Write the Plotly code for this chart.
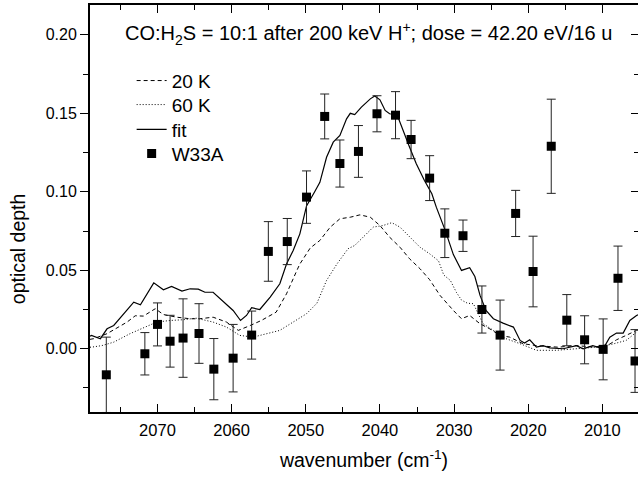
import plotly.graph_objects as go

# ---- data ----
fit_x = [2079.1, 2078.9, 2077.7, 2076.8, 2075.9, 2074.6, 2073.2, 2072.3, 2071.2, 2070.5, 2069.2, 2068.1,
         2066.7, 2065.6, 2064.5, 2063.6, 2062.5, 2061.1, 2059.8, 2058.8, 2058.0, 2057.3, 2056.2, 2054.8,
         2053.5, 2052.6, 2051.7, 2050.8, 2049.9, 2048.8, 2048.1, 2047.2, 2046.3, 2045.4, 2044.5, 2044.0,
         2043.4, 2042.5, 2041.3, 2040.7, 2040.0, 2039.3, 2038.7, 2037.7, 2036.9, 2036.0, 2035.1, 2034.0,
         2033.0, 2032.4, 2031.2, 2030.1, 2029.0, 2027.9, 2027.2, 2026.5, 2025.7, 2024.7, 2023.4, 2022.0,
         2021.1, 2020.5, 2019.8, 2018.9, 2018.0, 2017.1, 2015.3, 2013.5, 2012.6, 2011.3, 2009.9, 2009.0,
         2008.1, 2007.2, 2006.3, 2005.4, 2005.0]
fit_y = [0.008, 0.0085, 0.0064, 0.0127, 0.0148, 0.0223, 0.0297, 0.028, 0.0371, 0.042, 0.0376, 0.0397,
         0.0367, 0.0382, 0.038, 0.036, 0.036, 0.0297, 0.0244, 0.018, 0.0212, 0.0261, 0.025, 0.0329,
         0.0414, 0.054, 0.0626, 0.0732, 0.091, 0.100, 0.106, 0.122, 0.1316, 0.1359, 0.1465, 0.150,
         0.1492, 0.1539, 0.1592, 0.161, 0.1586, 0.1518, 0.1497, 0.1492, 0.139, 0.1284, 0.1178, 0.1072,
         0.0987, 0.0902, 0.0754, 0.060, 0.0499, 0.0516, 0.046, 0.034, 0.0244, 0.0191, 0.0163, 0.0138,
         0.0053, 0.0036, 0.0057, 0.001, 0.002, 0.0006, 0.0, 0.002, 0.0, 0.002, 0.0, 0.0074,
         0.010, 0.010, 0.018, 0.0212, 0.022]

k20_x = [2079.1, 2078.6, 2076.8, 2075.5, 2074.1, 2073.0, 2071.9, 2070.3, 2069.2, 2067.4, 2065.6, 2064.3,
         2062.5, 2060.7, 2059.1, 2057.5, 2056.0, 2054.0, 2052.6, 2051.2, 2050.8, 2049.4, 2048.1, 2046.7,
         2045.4, 2044.0, 2042.7, 2041.3, 2040.0, 2038.7, 2037.3, 2036.0, 2035.1, 2034.6, 2033.3, 2031.9,
         2030.1, 2029.0, 2027.9, 2026.5, 2025.2, 2023.8, 2022.5, 2020.7, 2018.9, 2016.0, 2013.5, 2011.0,
         2009.0, 2008.1, 2006.8, 2005.4, 2005.0]
k20_y = [0.006, 0.0064, 0.0096, 0.0134, 0.017, 0.021, 0.0208, 0.0255, 0.0218, 0.0201, 0.0191, 0.0191,
         0.0201, 0.017, 0.0117, 0.0148, 0.018, 0.0233, 0.035, 0.0499, 0.054, 0.0642, 0.069, 0.0775,
         0.0828, 0.0838, 0.0853, 0.0838, 0.0785, 0.0711, 0.0647, 0.0573, 0.053, 0.051, 0.044, 0.034,
         0.0244, 0.0191, 0.0212, 0.0159, 0.0127, 0.0085, 0.0074, 0.0032, 0.002, 0.001, 0.002, 0.001,
         0.003, 0.0057, 0.0085, 0.0117, 0.012]

k60_x = [2079.1, 2078.9, 2077.5, 2075.9, 2073.7, 2071.5, 2070.1, 2068.3, 2066.5, 2064.8, 2062.5, 2060.7,
         2058.9, 2057.1, 2055.3, 2053.5, 2051.7, 2049.9, 2048.5, 2047.2, 2045.8, 2044.3, 2043.4, 2042.3,
         2040.9, 2039.6, 2038.4, 2037.3, 2036.0, 2034.6, 2033.3, 2032.1, 2031.4, 2030.5, 2029.7, 2029.0,
         2028.2, 2027.4, 2026.1, 2024.7, 2023.0, 2021.1, 2018.9, 2016.2, 2013.5, 2010.8, 2008.6, 2006.8,
         2005.4, 2005.0]
k60_y = [0.001, 0.001, 0.002, 0.0042, 0.0096, 0.0142, 0.017, 0.018, 0.0185, 0.0195, 0.017, 0.0138,
         0.0085, 0.0074, 0.0096, 0.0117, 0.017, 0.0223, 0.029, 0.0435, 0.054, 0.0637, 0.0658, 0.0711,
         0.0775, 0.0785, 0.0803, 0.0775, 0.0711, 0.0647, 0.0605, 0.056, 0.047, 0.0435, 0.036, 0.031,
         0.029, 0.0287, 0.016, 0.0117, 0.0064, 0.0032, -0.001, -0.001, 0.0, 0.001, 0.003, 0.0053,
         0.0106, 0.011]

w33a_x = [2076.9, 2071.7, 2070.0, 2068.3, 2066.55, 2064.4, 2062.4, 2059.8, 2057.3, 2055.05, 2052.5,
          2049.9, 2047.45, 2045.4, 2042.9, 2040.4, 2037.9, 2035.8, 2033.3, 2031.25, 2028.8, 2026.25,
          2023.8, 2021.7, 2019.35, 2016.9, 2014.8, 2012.4, 2009.9, 2007.9, 2005.6]
w33a_y = [-0.0166, -0.0032, 0.0155, 0.0048, 0.0068, 0.0097, -0.013, -0.006, 0.0087, 0.062, 0.0683,
          0.0966, 0.148, 0.118, 0.1257, 0.1497, 0.1488, 0.1333, 0.1087, 0.0736, 0.072, 0.025,
          0.0087, 0.0862, 0.0492, 0.129, 0.0182, 0.0057, -0.0004, 0.0449, -0.0078]
w33a_err = [0.024, 0.0135, 0.0137, 0.0165, 0.025, 0.019, 0.0195, 0.0215, 0.0153, 0.019, 0.0147,
            0.0167, 0.0143, 0.015, 0.0165, 0.0115, 0.015, 0.0122, 0.0143, 0.0155, 0.010, 0.015,
            0.0223, 0.0147, 0.0225, 0.030, 0.0163, 0.0153, 0.0194, 0.0205, 0.020]

x_range = [2079.1, 2005.2]
y_range = [-0.0403, 0.2190]
y_ticks = [0.00, 0.05, 0.10, 0.15, 0.20]
y_ticklabels = ["0.00", "0.05", "0.10", "0.15", "0.20"]
x_ticks = [2070, 2060, 2050, 2040, 2030, 2020, 2010]

FONT = "Liberation Sans, Arial, sans-serif"

fig = go.Figure()
fig.add_trace(go.Scatter(x=k20_x, y=k20_y, mode="lines", name="20 K", legend="legend",
                         line=dict(color="black", width=1, dash="4px,3px")))
fig.add_trace(go.Scatter(x=k60_x, y=k60_y, mode="lines", name="60 K", legend="legend2",
                         line=dict(color="black", width=1, dash="1px,2px")))
fig.add_trace(go.Scatter(x=fit_x, y=fit_y, mode="lines", name="fit", legend="legend3",
                         line=dict(color="black", width=1.2)))
fig.add_trace(go.Scatter(x=w33a_x, y=w33a_y, mode="markers", name="W33A", legend="legend4",
                         marker=dict(symbol="square", size=9, color="black"),
                         error_y=dict(type="data", array=w33a_err, visible=True,
                                      color="#222", thickness=1, width=4.5)))
# invisible trace to anchor right mirror axis
fig.add_trace(go.Scatter(x=[x_range[0]], y=[0], yaxis="y2", mode="markers",
                         marker=dict(opacity=0), showlegend=False, hoverinfo="skip"))

def leg(yc):
    return dict(x=0.076, y=yc, xanchor="left", yanchor="middle",
                bgcolor="rgba(0,0,0,0)", font=dict(size=19, family=FONT))

fig.update_layout(
    width=638, height=477,
    margin=dict(l=90, r=0, t=5, b=65),
    paper_bgcolor="white", plot_bgcolor="white",
    font=dict(family=FONT, color="black", size=16),
    showlegend=True,
    legend=leg(0.814), legend2=leg(0.755), legend3=leg(0.694), legend4=leg(0.635),
    xaxis=dict(range=x_range, tickvals=x_ticks, ticks="inside", ticklen=8, tickwidth=1.3,
               tickcolor="black", showline=True, linecolor="black", linewidth=1.6,
               mirror="ticks", showgrid=False, zeroline=False,
               tickfont=dict(size=16.5, family=FONT), ticklabelstandoff=2,
               minor=dict(dtick=5, ticks="inside", ticklen=5, tickcolor="black", tickwidth=1.3,
                          tick0=2005),
               title=dict(text="wavenumber (cm<sup>-1</sup>)", font=dict(size=19.5, family=FONT),
                          standoff=16)),
    yaxis=dict(range=y_range, tickvals=y_ticks, ticktext=y_ticklabels, ticks="outside",
               ticklen=8, tickwidth=1.3, tickcolor="black", showline=True, linecolor="black",
               linewidth=2, mirror=False, showgrid=False, zeroline=False,
               tickfont=dict(size=16, family=FONT),
               minor=dict(dtick=0.025, tick0=0, ticks="outside", ticklen=5, tickcolor="black",
                          tickwidth=1.3)),
    yaxis2=dict(range=y_range, overlaying="y", side="right", tickvals=y_ticks, ticks="inside",
                ticklen=7, tickwidth=1.3, tickcolor="black", showticklabels=False,
                showline=False, showgrid=False, zeroline=False,
                minor=dict(dtick=0.025, tick0=0, ticks="inside", ticklen=4, tickcolor="black",
                           tickwidth=1.3)),
    annotations=[
        dict(text="CO:H<sub>2</sub>S = 10:1 after 200 keV H<sup>+</sup>; dose = 42.20 eV/16 u",
             xref="paper", yref="paper", x=0.06, y=0.929, xanchor="left", yanchor="middle",
             showarrow=False, font=dict(size=20, family=FONT)),
        dict(text="optical depth", xref="paper", yref="paper", x=0, xshift=-72,
             y=0.40, xanchor="center", yanchor="middle", textangle=-90, showarrow=False,
             font=dict(size=19.5, family=FONT)),
    ],
)

fig.write_html("out.html")
